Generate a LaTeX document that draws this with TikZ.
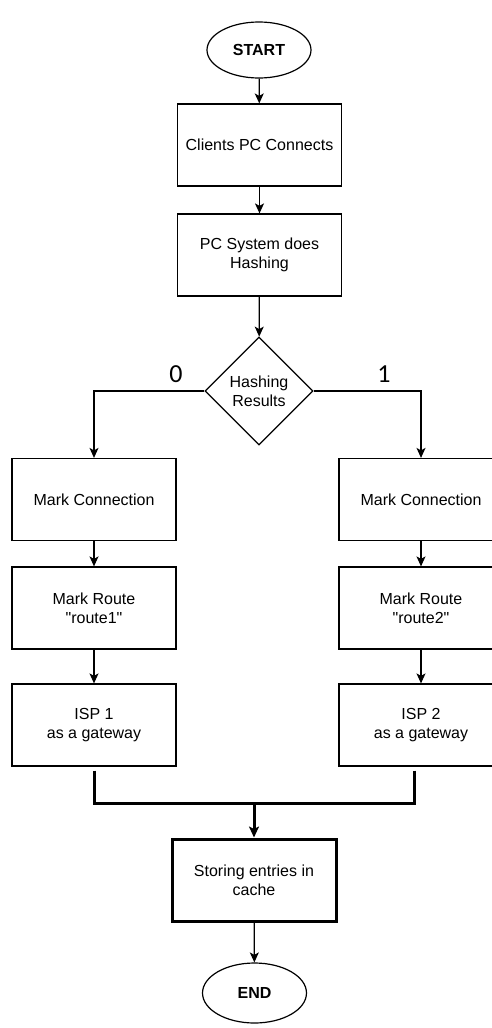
\documentclass[tikz,border=0pt]{standalone}
\usepackage{fontspec}
\setmainfont{Liberation Sans}[Ligatures=TeXOff]
\newfontfamily\bitfont{Carlito}
\usetikzlibrary{arrows.meta,shapes.geometric,calc}

\begin{document}
\begin{tikzpicture}[x=1pt,y=-1pt,
  every node/.style={font=\fontsize{16}{19}\selectfont, align=center},
  terminal/.style={draw, line width=1.2pt, ellipse, minimum width=104pt, minimum height=56pt, font=\fontsize{16}{19}\selectfont\bfseries},
  process/.style={draw, line width=1.2pt, rectangle, minimum width=164pt, minimum height=82pt},
  decision/.style={draw, line width=1.2pt, diamond, aspect=1, inner sep=0pt, minimum width=108pt, minimum height=108pt},
  flow/.style={line width=1.2pt, -{Stealth[length=10pt,width=9pt,inset=2.5pt]}},
  merge/.style={line width=3pt},
  bit/.style={font=\bitfont\fontsize{26}{30}\selectfont}
]
  \clip (0,0) rectangle (492,1028);

  \node [terminal] at (259,50) (start) {START};
  \node [process] at (259.5,145) (clients) {Clients PC Connects};
  \node [process] at (259.5,255) (hashing) {PC System does\\Hashing};
  \node [decision] at (259,391) (result) {Hashing\\Results};

  \draw [flow] (start) -- (clients);
  \draw [flow] (clients) -- (hashing);
  \draw [flow] (hashing) -- (result);

  \node [bit] at (176,374) (bit_0) {0};
  \node [bit] at (384,374) (bit_1) {1};

  \foreach \n/\x in {1/94, 2/421}
  {
    \node [process] at (\x,499.5) (mark_conn_\n) {Mark Connection};
    \node [process] at (\x,608) (mark_route_\n) {Mark Route\\"route\n"};
    \node [process] at (\x,725) (isp_\n) {ISP \n\\as a gateway};
    \draw [flow] (mark_conn_\n) -- (mark_route_\n);
    \draw [flow] (mark_route_\n) -- (isp_\n);
  }

  \draw [flow] (result.west) -| (mark_conn_1);
  \draw [flow] (result.east) -| (mark_conn_2);

  \node [process, line width=3pt] at (254,880) (store) {Storing entries in\\cache};
  \node [terminal, minimum height=60pt] at (254.5,993) (end) {END};

  % merge of both routes
  \coordinate (join) at (254,803);
  \draw [merge] ([yshift=-4pt]isp_1.south) |- (join);
  \draw [merge] ([xshift=-7pt,yshift=-4pt]isp_2.south) |- (join);
  \draw [merge, -{Stealth[length=11pt,width=10pt,inset=2.5pt]}] (join) -- (store);
  \draw [flow] (store) -- (end);

\end{tikzpicture}
\end{document}
